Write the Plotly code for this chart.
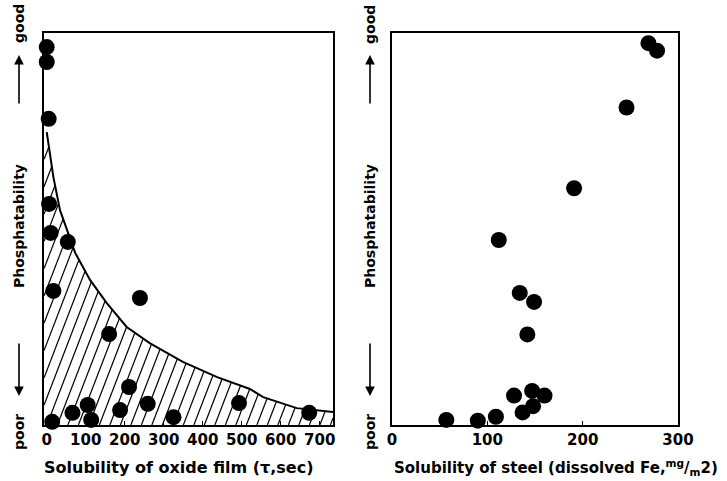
import numpy as np
import plotly.graph_objects as go

W, H = 727, 481

# ---- data ----
# left: solubility of oxide film (tau, sec) vs phosphatability (arbitrary 0..10)
oxide_x = [0, 0, 5, 6, 10, 54, 17, 239, 160, 211, 105, 66, 188, 259, 114, 14, 325, 493, 673]
oxide_y = [9.64, 9.26, 7.81, 5.64, 4.90, 4.67, 3.42, 3.24, 2.32, 0.97, 0.51, 0.31, 0.38,
           0.54, 0.13, 0.08, 0.20, 0.56, 0.31]
# boundary curve of the hatched band
curve_x = [0, 17, 34, 55, 73, 111, 154, 205, 264, 349, 437, 521, 555, 641, 731]
curve_y = [7.47, 6.33, 5.48, 4.92, 4.39, 3.70, 3.11, 2.50, 2.09, 1.61, 1.22, 0.92, 0.71, 0.43, 0.33]
# right: solubility of steel (dissolved Fe, mg/m2) vs phosphatability
steel_x = [269, 278, 246, 191, 112, 134, 149, 142, 128, 147, 160, 148, 137, 109, 90, 57]
steel_y = [9.74, 9.55, 8.10, 6.04, 4.72, 3.37, 3.14, 2.31, 0.75, 0.87, 0.75, 0.48, 0.32,
           0.21, 0.11, 0.13]

oxide_ticks = [0, 100, 200, 300, 400, 500, 600, 700]
steel_ticks = [0, 100, 200, 300]

# ---- layout geometry (pixels) ----
L1, R1 = 44, 333
L2, R2 = 392, 678
TOP, BOT = 33, 425
X1RANGE = [-7, 734]
X2RANGE = [0, 300]
YRANGE = [0, 10]


def px(v):
    return v / W


def py(v):
    return 1 - v / H


# ---- hatch lines under the curve (computed from the curve in pixel space) ----
pw = R1 - L1
ph = BOT - TOP
sx = pw / (X1RANGE[1] - X1RANGE[0])
sy = ph / (YRANGE[1] - YRANGE[0])
cxp = (np.array(curve_x) - X1RANGE[0]) * sx
cyp = np.array(curve_y) * sy


def fcurve(X):
    return np.interp(X, cxp, cyp, left=cyp[0], right=cyp[-1])


slope = 2.6
spacing = 10.5
hx, hy = [], []
b = -cyp[0] / slope
while b < pw:
    t = np.arange(0, ph, 0.25)
    X = b + t / slope
    Y = t
    ok = (X >= 0) & (X <= pw) & (Y <= fcurve(X))
    idx = np.where(ok)[0]
    if len(idx) > 1:
        start = idx[0]
        end = start
        while end + 1 < len(ok) and ok[end + 1]:
            end += 1
        hx += [X[start] / sx + X1RANGE[0], X[end] / sx + X1RANGE[0], None]
        hy += [Y[start] / sy, Y[end] / sy, None]
    b += spacing

fig = go.Figure()

fig.add_trace(go.Scatter(x=hx, y=hy, mode="lines", line=dict(color="black", width=1.2),
                         xaxis="x", yaxis="y", hoverinfo="skip", showlegend=False))
fig.add_trace(go.Scatter(x=curve_x + [X1RANGE[1]], y=curve_y + [curve_y[-1]], mode="lines",
                         line=dict(color="black", width=2), xaxis="x", yaxis="y",
                         showlegend=False))
fig.add_trace(go.Scatter(x=oxide_x, y=oxide_y, mode="markers",
                         marker=dict(color="black", size=16), xaxis="x", yaxis="y",
                         cliponaxis=False, showlegend=False))
fig.add_trace(go.Scatter(x=steel_x, y=steel_y, mode="markers",
                         marker=dict(color="black", size=16), xaxis="x2", yaxis="y2",
                         cliponaxis=False, showlegend=False))

font_main = "DejaVu Sans"
line_common = dict(showline=True, linecolor="black", linewidth=2, mirror=True,
                   showgrid=False, zeroline=False)
xcommon = dict(tickfont=dict(family=font_main, size=15, color="black", weight="bold"),
               ticks="inside", ticklen=4, tickcolor="black", tickwidth=1, **line_common)

fig.update_layout(
    width=W, height=H,
    margin=dict(l=0, r=0, t=0, b=0, autoexpand=False),
    paper_bgcolor="white", plot_bgcolor="white",
    xaxis=dict(domain=[px(L1), px(R1)], range=X1RANGE, tickvals=oxide_ticks,
               anchor="y", **xcommon),
    yaxis=dict(domain=[py(BOT), py(TOP)], range=YRANGE, showticklabels=False,
               ticks="", anchor="x", **line_common),
    xaxis2=dict(domain=[px(L2), px(R2)], range=X2RANGE, tickvals=steel_ticks,
                anchor="y2", **xcommon),
    yaxis2=dict(domain=[py(BOT), py(TOP)], range=YRANGE, showticklabels=False,
                ticks="", anchor="x2", **line_common),
)

ann = []


def text_ann(x, y, text, angle=0, size=14):
    return dict(x=px(x), y=py(y), xref="paper", yref="paper", text=text,
                textangle=angle, showarrow=False,
                font=dict(family=font_main, size=size, color="black", weight="bold"),
                xanchor="center", yanchor="middle")


for xc in (19, 370):
    ann.append(text_ann(xc, 24, "good", -90))
    ann.append(text_ann(xc, 226, "Phosphatability", -90))
    ann.append(text_ann(xc, 432, "poor", -90))
    ann.append(dict(x=px(xc), y=py(55), xref="paper", yref="paper", text="",
                    showarrow=True, ax=0, ay=50, arrowhead=2, arrowsize=1.2,
                    arrowwidth=1.6, arrowcolor="black"))
    ann.append(dict(x=px(xc), y=py(396), xref="paper", yref="paper", text="",
                    showarrow=True, ax=0, ay=-54, arrowhead=2, arrowsize=1.2,
                    arrowwidth=1.6, arrowcolor="black"))

ann.append(text_ann(179, 467, "Solubility of oxide film (\u03c4,sec)", size=16))
ann.append(text_ann(556, 467, "Solubility of steel (dissolved Fe,<sup>mg</sup>/<sub>m</sub>2)",
                    size=15))
fig.update_layout(annotations=ann)

fig.write_html("out.html",
               config={"displayModeBar": False},
               post_script="document.body.style.margin='0';"
                           "document.documentElement.style.overflow='hidden';")
